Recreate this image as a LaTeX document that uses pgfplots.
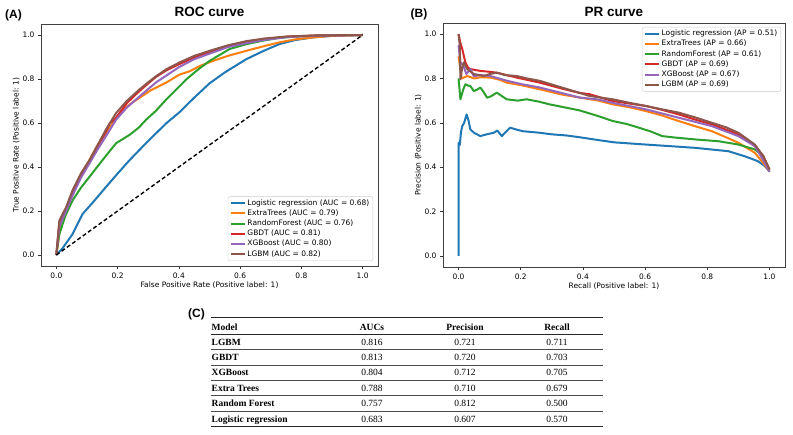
\documentclass[border=0pt]{standalone}
\usepackage{fontspec}
\setmainfont{DejaVu Sans}
\newfontfamily\titlefont{Liberation Sans}
\newfontfamily\tabfont{Liberation Serif}
\usepackage{pgfplots}
\pgfplotsset{compat=1.18}
\definecolor{tabblue}{HTML}{1F77B4}
\definecolor{taborange}{HTML}{FF7F0E}
\definecolor{tabgreen}{HTML}{2CA02C}
\definecolor{tabred}{HTML}{D62728}
\definecolor{tabpurple}{HTML}{9467BD}
\definecolor{tabbrown}{HTML}{8C564B}
\tikzset{curve/.style={line width=2pt, line join=round}}
\pgfplotsset{
  myax/.style={
    scale only axis,
    xmin=-0.05, xmax=1.05, ymin=-0.05, ymax=1.05,
    xtick={0,0.2,0.4,0.6,0.8,1}, ytick={0,0.2,0.4,0.6,0.8,1},
    tick align=outside, xtick pos=bottom, ytick pos=left,
    major tick length=3pt,
    tick style={black!80, line width=0.6pt},
    axis line style={black!75, line width=0.7pt},
    ticklabel style={font=\fontsize{7.5}{9}\selectfont},
    /pgf/number format/.cd, fixed, fixed zerofill, precision=1, assume math mode=true,
    /pgfplots/.cd,
    label style={font=\fontsize{7.5}{9}\selectfont},
    xlabel shift=-3pt, ylabel shift=-4pt,
    legend cell align=left,
    legend image code/.code={\draw[#1, line width=2pt] (0pt,0pt) -- (14pt,0pt);},
  },
  mylegend/.style={
    legend style={draw=black!20, rounded corners=2pt, fill=white,
      font=\fontsize{7.5}{9}\selectfont, inner xsep=2pt, inner ysep=1.5pt, row sep=0pt,
      nodes={inner sep=1.5pt, text height=5.6pt, text depth=1.6pt}},
  },
}
\begin{document}
\begin{tikzpicture}
\useasboundingbox (0pt,0pt) rectangle (793pt,435pt);
% ---------------- ROC ----------------
\begin{axis}[myax, mylegend, at={(41pt,169pt)}, anchor=south west, width=337pt, height=242pt,
  xlabel={False Positive Rate (Positive label: 1)},
  ylabel={True Positive Rate (Positive label: 1)},
  legend style={at={(1,0)}, anchor=south east, xshift=-5pt, yshift=5pt}]
\addplot[curve, tabblue] coordinates {(0,0) (0.02,0.03) (0.053,0.095) (0.086,0.187) (0.12,0.24) (0.162,0.309) (0.2,0.37) (0.239,0.431) (0.28,0.49) (0.326,0.554) (0.36,0.6) (0.402,0.649) (0.45,0.715) (0.5,0.78) (0.55,0.83) (0.62,0.89) (0.68,0.93) (0.729,0.959) (0.78,0.977) (0.838,0.989) (0.9,0.996) (1,1)};
\addlegendentry{Logistic regression (AUC = 0.68)}
\addplot[curve, taborange] coordinates {(0,0) (0.01,0.1) (0.021,0.156) (0.053,0.278) (0.08,0.36) (0.108,0.431) (0.135,0.5) (0.162,0.554) (0.19,0.61) (0.217,0.661) (0.245,0.69) (0.271,0.714) (0.31,0.75) (0.358,0.783) (0.402,0.82) (0.435,0.835) (0.47,0.86) (0.511,0.882) (0.56,0.905) (0.62,0.928) (0.68,0.95) (0.729,0.967) (0.78,0.98) (0.838,0.989) (0.9,0.996) (1,1)};
\addlegendentry{ExtraTrees (AUC = 0.79)}
\addplot[curve, tabgreen] coordinates {(0,0) (0.01,0.095) (0.03,0.18) (0.053,0.248) (0.08,0.305) (0.108,0.355) (0.15,0.43) (0.195,0.508) (0.239,0.546) (0.27,0.58) (0.293,0.615) (0.325,0.655) (0.358,0.706) (0.39,0.75) (0.424,0.798) (0.46,0.84) (0.5,0.882) (0.54,0.915) (0.565,0.936) (0.62,0.958) (0.674,0.974) (0.72,0.985) (0.783,0.994) (0.9,0.999) (1,1)};
\addlegendentry{RandomForest (AUC = 0.76)}
\addplot[curve, tabred] coordinates {(0,0) (0.01,0.15) (0.032,0.212) (0.053,0.285) (0.08,0.362) (0.108,0.425) (0.135,0.495) (0.162,0.56) (0.175,0.6) (0.19,0.615) (0.23,0.69) (0.271,0.745) (0.3,0.78) (0.326,0.81) (0.36,0.84) (0.402,0.868) (0.45,0.898) (0.5,0.922) (0.56,0.948) (0.6,0.962) (0.68,0.982) (0.75,0.992) (0.85,0.998) (1,1)};
\addlegendentry{GBDT (AUC = 0.81)}
\addplot[curve, tabpurple] coordinates {(0,0) (0.01,0.13) (0.032,0.2) (0.053,0.27) (0.08,0.35) (0.108,0.416) (0.135,0.48) (0.162,0.54) (0.195,0.615) (0.23,0.67) (0.271,0.72) (0.326,0.785) (0.38,0.835) (0.402,0.855) (0.45,0.89) (0.5,0.915) (0.56,0.945) (0.62,0.963) (0.68,0.978) (0.75,0.99) (0.85,0.997) (1,1)};
\addlegendentry{XGBoost (AUC = 0.80)}
\addplot[curve, tabbrown] coordinates {(0,0) (0.01,0.156) (0.032,0.217) (0.053,0.294) (0.08,0.37) (0.108,0.431) (0.135,0.5) (0.162,0.57) (0.195,0.645) (0.23,0.7) (0.271,0.752) (0.3,0.785) (0.326,0.813) (0.36,0.845) (0.402,0.875) (0.45,0.905) (0.5,0.928) (0.56,0.953) (0.62,0.972) (0.68,0.984) (0.75,0.993) (0.85,0.998) (1,1)};
\addlegendentry{LGBM (AUC = 0.82)}
\addplot[black, line width=1.4pt, dash pattern=on 4pt off 2.5pt, forget plot] coordinates {(0,0) (1,1)};
\end{axis}
% ---------------- PR ----------------
\begin{axis}[myax, mylegend, at={(443pt,168pt)}, anchor=south west, width=342pt, height=244pt,
  xlabel={Recall (Positive label: 1)},
  ylabel={Precision (Positive label: 1)},
  legend style={at={(1,1)}, anchor=north east, xshift=-4pt, yshift=-4pt}]
\addplot[curve, tabblue] coordinates {(0,0) (0,0.51) (0.004,0.5) (0.008,0.56) (0.012,0.585) (0.018,0.6) (0.026,0.638) (0.032,0.61) (0.038,0.57) (0.05,0.555) (0.07,0.54) (0.09,0.548) (0.113,0.555) (0.125,0.565) (0.139,0.54) (0.15,0.556) (0.166,0.578) (0.19,0.568) (0.208,0.562) (0.262,0.555) (0.3,0.548) (0.347,0.543) (0.389,0.535) (0.45,0.522) (0.5,0.512) (0.602,0.502) (0.7,0.493) (0.762,0.487) (0.868,0.472) (0.921,0.449) (0.963,0.427) (0.985,0.405) (1,0.38)};
\addlegendentry{Logistic regression (AP = 0.51)}
\addplot[curve, taborange] coordinates {(0,0.9) (0.01,0.8) (0.028,0.811) (0.05,0.8) (0.07,0.805) (0.102,0.804) (0.13,0.795) (0.155,0.781) (0.2,0.77) (0.262,0.751) (0.33,0.728) (0.389,0.714) (0.45,0.7) (0.496,0.683) (0.55,0.67) (0.602,0.653) (0.65,0.635) (0.708,0.608) (0.76,0.585) (0.815,0.562) (0.86,0.535) (0.9,0.51) (0.953,0.465) (0.985,0.41) (1,0.38)};
\addlegendentry{ExtraTrees (AP = 0.66)}
\addplot[curve, tabgreen] coordinates {(0,0.8) (0.006,0.706) (0.015,0.75) (0.022,0.774) (0.03,0.768) (0.038,0.766) (0.049,0.743) (0.06,0.75) (0.07,0.759) (0.08,0.74) (0.092,0.713) (0.105,0.72) (0.123,0.736) (0.14,0.72) (0.155,0.706) (0.19,0.7) (0.219,0.706) (0.26,0.695) (0.293,0.683) (0.34,0.67) (0.389,0.656) (0.45,0.63) (0.496,0.608) (0.54,0.595) (0.58,0.578) (0.62,0.56) (0.655,0.54) (0.7,0.533) (0.762,0.525) (0.836,0.517) (0.9,0.502) (0.953,0.48) (0.98,0.45) (1,0.38)};
\addlegendentry{RandomForest (AP = 0.61)}
\addplot[curve, tabred] coordinates {(0,1) (0.006,0.96) (0.012,0.932) (0.022,0.872) (0.03,0.85) (0.038,0.842) (0.07,0.834) (0.1,0.83) (0.123,0.826) (0.187,0.804) (0.262,0.781) (0.33,0.755) (0.389,0.735) (0.421,0.729) (0.496,0.698) (0.602,0.676) (0.65,0.66) (0.708,0.638) (0.76,0.615) (0.815,0.593) (0.9,0.548) (0.953,0.495) (0.98,0.45) (1,0.39)};
\addlegendentry{GBDT (AP = 0.69)}
\addplot[curve, tabpurple] coordinates {(0,0.95) (0.006,0.872) (0.015,0.86) (0.025,0.82) (0.038,0.842) (0.049,0.81) (0.07,0.815) (0.102,0.811) (0.155,0.79) (0.2,0.775) (0.262,0.759) (0.33,0.735) (0.389,0.714) (0.45,0.705) (0.496,0.69) (0.602,0.661) (0.708,0.623) (0.815,0.585) (0.9,0.54) (0.953,0.495) (0.985,0.42) (1,0.38)};
\addlegendentry{XGBoost (AP = 0.67)}
\addplot[curve, tabbrown] coordinates {(0,1) (0.004,0.95) (0.006,0.796) (0.012,0.85) (0.017,0.872) (0.028,0.842) (0.049,0.82) (0.081,0.811) (0.1,0.82) (0.123,0.826) (0.15,0.815) (0.187,0.811) (0.22,0.8) (0.262,0.789) (0.33,0.76) (0.389,0.735) (0.421,0.721) (0.496,0.706) (0.55,0.69) (0.602,0.676) (0.65,0.662) (0.708,0.646) (0.76,0.625) (0.815,0.6) (0.86,0.58) (0.9,0.555) (0.953,0.502) (0.98,0.45) (1,0.39)};
\addlegendentry{LGBM (AP = 0.69)}
\end{axis}
% ---------------- titles and panel letters ----------------
\node[anchor=base, font=\titlefont\bfseries\fontsize{13.5}{16}\selectfont] at (209.5pt,418.3pt) {ROC curve};
\node[anchor=base, font=\titlefont\bfseries\fontsize{13.5}{16}\selectfont] at (614pt,418.3pt) {PR curve};
\node[anchor=base west, inner sep=0pt, font=\titlefont\bfseries\fontsize{12}{14}\selectfont] at (5pt,416.7pt) {(A)};
\node[anchor=base west, inner sep=0pt, font=\titlefont\bfseries\fontsize{12}{14}\selectfont] at (410.5pt,417.7pt) {(B)};
\node[anchor=base west, inner sep=0pt, font=\titlefont\bfseries\fontsize{12}{14}\selectfont] at (188pt,117.5pt) {(C)};
% ---------------- table ----------------
\draw[line width=1.4pt, black!85] (210.7pt,117.3pt) -- (603.3pt,117.3pt);
\draw[line width=1pt, black!85] (210.7pt,100.7pt) -- (603.3pt,100.7pt);
\foreach \yy in {85.7,70,54.7,39.3,23.7} {\draw[line width=0.5pt, black!70] (210.7pt,\yy pt) -- (603.3pt,\yy pt);}
\draw[line width=1.4pt, black!85] (210.7pt,8.3pt) -- (603.3pt,8.3pt);
\begin{scope}[every node/.style={inner sep=0pt, font=\tabfont\fontsize{9.5}{11}\selectfont}]
\node[anchor=base west] at (211.5pt,104.5pt) {\bfseries Model};
\node[anchor=base] at (372pt,104.5pt) {\bfseries AUCs};
\node[anchor=base] at (465pt,104.5pt) {\bfseries Precision};
\node[anchor=base] at (557pt,104.5pt) {\bfseries Recall};
\foreach \yy/\m/\a/\p/\r in {89.8/LGBM/0.816/0.721/0.711, 74.5/GBDT/0.813/0.720/0.703, 59.1/XGBoost/0.804/0.712/0.705, 43.5/Extra Trees/0.788/0.710/0.679, 28.1/Random Forest/0.757/0.812/0.500, 12.8/Logistic regression/0.683/0.607/0.570} {
  \node[anchor=base west] at (211.5pt,\yy pt) {\bfseries \m};
  \node[anchor=base] at (372pt,\yy pt) {\a};
  \node[anchor=base] at (465pt,\yy pt) {\p};
  \node[anchor=base] at (557pt,\yy pt) {\r};
}
\end{scope}
\end{tikzpicture}
\end{document}
